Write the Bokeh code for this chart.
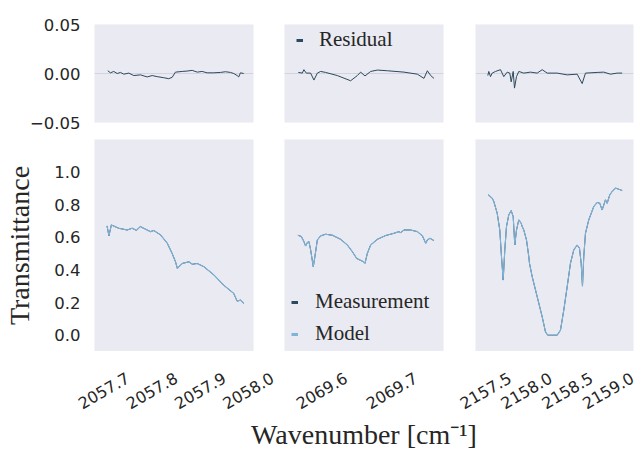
from bokeh.plotting import figure
from bokeh.models import (Range1d, FixedTicker, CustomJSTickFormatter, Label, LabelSet,
                          ColumnDataSource, Span, Legend, LegendItem)
from bokeh.layouts import row, column
from bokeh.embed import file_html
from bokeh.resources import INLINE
from bokeh.core.properties import value

# ---------------- data ----------------
res_yticks = [-0.05, 0.0, 0.05]
res_ytick_labels = ["\u22120.05", "0.00", "0.05"]
spec_yticks = [0.0, 0.2, 0.4, 0.6, 0.8, 1.0]
spec_ytick_labels = ["0.0", "0.2", "0.4", "0.6", "0.8", "1.0"]

left_xticks = [2057.7, 2057.8, 2057.9, 2058.0]
left_xtick_labels = ["2057.7", "2057.8", "2057.9", "2058.0"]
mid_xticks = [2069.6, 2069.7]
mid_xtick_labels = ["2069.6", "2069.7"]
right_xticks = [2157.5, 2158.0, 2158.5, 2159.0]
right_xtick_labels = ["2157.5", "2158.0", "2158.5", "2159.0"]

left_xlim = (2057.681, 2058.011)
mid_xlim = (2069.547, 2069.774)
right_xlim = (2157.353, 2159.288)
res_ylim = (-0.05, 0.05)
spec_ylim = (-0.1, 1.2)

x_title = "Wavenumber [cm\u207b\u00b9]"
y_title = "Transmittance"

# residuals
left_res_x = [2057.7086, 2057.7142, 2057.7210, 2057.7281, 2057.7349, 2057.7418, 2057.7522,
              2057.7625, 2057.7764, 2057.7903, 2057.8007, 2057.8111, 2057.8248, 2057.8351,
              2057.8422, 2057.8490, 2057.8630, 2057.8733, 2057.8837, 2057.8941, 2057.9044,
              2057.9148, 2057.9285, 2057.9424, 2057.9528, 2057.9632, 2057.9700, 2057.9771,
              2057.9804, 2057.9839, 2057.9907]
left_res = [0.0028, 0.0007, 0.0021, 0.0, 0.0011, -0.0007, 0.0004, -0.0021, -0.0014, -0.0035,
            -0.0021, -0.0032, -0.0043, -0.0053, -0.0039, 0.0014, 0.0021, 0.0025, 0.0032,
            0.0014, 0.0021, 0.0007, 0.0007, 0.0011, 0.0018, 0.0011, 0.0, -0.0021, -0.0035,
            0.0007, 0.0]

mid_res_x = [2069.5667, 2069.5724, 2069.5747, 2069.5781, 2069.5843, 2069.5890, 2069.5939,
             2069.5986, 2069.6057, 2069.6224, 2069.6414, 2069.6510, 2069.6557, 2069.6619,
             2069.6700, 2069.6796, 2069.6939, 2069.7176, 2069.7367, 2069.7461, 2069.7510,
             2069.7557, 2069.7604]
mid_res = [0.0011, 0.0004, 0.0039, 0.0004, 0.0004, -0.0067, 0.0004, 0.0021, 0.0011, -0.0021,
           -0.0074, -0.0021, 0.0014, -0.0025, 0.0021, 0.0035, 0.0028, 0.0014, -0.0007,
           -0.0050, 0.0028, -0.0021, -0.0050]

right_res_x = [2157.5036, 2157.5158, 2157.5366, 2157.5574, 2157.5978, 2157.6591, 2157.6994,
               2157.7411, 2157.7729, 2157.7901, 2157.8146, 2157.8305, 2157.8550, 2157.8831,
               2157.9444, 2158.0264, 2158.1084, 2158.1697, 2158.2308, 2158.3534, 2158.4757,
               2158.5983, 2158.6594, 2158.6999, 2158.8430, 2158.9240, 2159.0059, 2159.0880,
               2159.1492]
right_res = [-0.0021, 0.0021, -0.0032, 0.0004, 0.0021, 0.0039, -0.0032, 0.0014, 0.0004,
             -0.0085, 0.0021, -0.0149, -0.0032, 0.0021, 0.0004, 0.0014, 0.0004, 0.0039,
             0.0004, 0.0004, -0.0014, -0.0007, -0.0103, 0.0004, 0.0011, 0.0014, -0.0007,
             0.0004, 0.0004]

# transmittance (measurement; the model coincides with it to within a pixel)
left_x = [2057.707, 2057.711, 2057.716, 2057.731, 2057.749, 2057.759, 2057.768, 2057.776,
          2057.787, 2057.797, 2057.804, 2057.818, 2057.832, 2057.842, 2057.849, 2057.853,
          2057.863, 2057.877, 2057.884, 2057.894, 2057.908, 2057.929, 2057.949, 2057.970,
          2057.977, 2057.984, 2057.991]
left_meas = [0.670, 0.610, 0.676, 0.656, 0.645, 0.656, 0.643, 0.666, 0.650, 0.635, 0.642,
             0.615, 0.564, 0.502, 0.451, 0.410, 0.440, 0.450, 0.435, 0.440, 0.420, 0.369,
             0.307, 0.256, 0.209, 0.215, 0.195]

mid_x = [2069.5661, 2069.5710, 2069.5747, 2069.5771, 2069.5796, 2069.5819, 2069.5843,
         2069.5881, 2069.5904, 2069.5939, 2069.5986, 2069.6057, 2069.6153, 2069.6271,
         2069.6367, 2069.6439, 2069.6500, 2069.6547, 2069.6596, 2069.6619, 2069.6653,
         2069.6700, 2069.6796, 2069.6914, 2069.7033, 2069.7104, 2069.7129, 2069.7176,
         2069.7271, 2069.7367, 2069.7439, 2069.7486, 2069.7510, 2069.7547, 2069.7604]
mid_meas = [0.613, 0.605, 0.574, 0.547, 0.568, 0.574, 0.523, 0.420, 0.482, 0.584, 0.609,
            0.619, 0.613, 0.588, 0.553, 0.512, 0.471, 0.461, 0.451, 0.441, 0.502, 0.553,
            0.588, 0.611, 0.625, 0.635, 0.629, 0.645, 0.645, 0.635, 0.609, 0.564, 0.584,
            0.594, 0.580]

right_x = [2157.5085, 2157.5574, 2157.5771, 2157.6186, 2157.6505, 2157.6713, 2157.6921,
           2157.7118, 2157.7326, 2157.7607, 2157.7901, 2157.8146, 2157.8342, 2157.8550,
           2157.8831, 2157.9125, 2157.9248, 2157.9444, 2157.9775, 2158.0056, 2158.0142,
           2158.0472, 2158.1084, 2158.1697, 2158.2101, 2158.2382, 2158.3534, 2158.3937,
           2158.4342, 2158.4757, 2158.5162, 2158.5566, 2158.5983, 2158.6264, 2158.6472,
           2158.6631, 2158.6791, 2158.6999, 2158.7402, 2158.8015, 2158.8430, 2158.8749,
           2158.9043, 2158.9448, 2158.9656, 2158.9974, 2159.0268, 2159.0672, 2159.1076,
           2159.1492]
right_meas = [0.861, 0.840, 0.820, 0.748, 0.645, 0.482, 0.338, 0.523, 0.666, 0.738, 0.764,
              0.727, 0.553, 0.645, 0.707, 0.686, 0.666, 0.645, 0.584, 0.482, 0.441, 0.359,
              0.236, 0.113, 0.020, 0.000, 0.000, 0.031, 0.154, 0.297, 0.441, 0.523, 0.553,
              0.533, 0.441, 0.301, 0.482, 0.625, 0.707, 0.789, 0.814, 0.809, 0.768, 0.830,
              0.809, 0.861, 0.881, 0.902, 0.895, 0.887]

left_model = list(left_meas)
mid_model = list(mid_meas)
right_model = list(right_meas)

# ---------------- style ----------------
BG = "#EAEAF2"
DARK = "#2c4a5e"
LIGHT = "#7fb4d8"
TXT = "#262626"
ZERO = "#d2d3dc"
TICK_FONT = "DejaVu Sans"
TICK_SIZE = "16.5px"
XTICK_SIZE = "16px"
SERIF = "Liberation Serif"
NAN = float("nan")

# layout (pixels)
BL1, BR1, BL2, BR2, BL3, BR3 = 94, 24, 7, 16, 16, 4
FW1, FW2, FW3 = 159, 159, 158
TOP_BT, TOP_FH, TOP_BB = 24, 98, 9
BOT_BT, BOT_FH = 8, 212
STRIP_H = 99          # strip under the panels holding tick labels and x title
TICK_DROP = 39        # centre of the rotated tick labels below the panels
TITLE_DROP = 83       # centre of the x title below the panels


def panel(bl, fw, br, bt, fh, bb, xlim, ylim, yaxis=False):
    p = figure(width=bl + fw + br, height=bt + fh + bb,
               x_range=Range1d(*xlim), y_range=Range1d(*ylim),
               output_backend="svg", toolbar_location=None,
               x_axis_location=None,
               y_axis_location="left" if yaxis else None,
               min_border_left=bl, min_border_right=br,
               min_border_top=bt, min_border_bottom=bb)
    p.background_fill_color = BG
    p.border_fill_color = "white"
    p.outline_line_color = None
    p.grid.grid_line_color = None
    return p


def style_yaxis(p, ticks, labels):
    ax = p.yaxis[0]
    ax.ticker = FixedTicker(ticks=ticks)
    ax.formatter = CustomJSTickFormatter(
        args=dict(tv=ticks, tl=labels),
        code="for (let i = 0; i < tv.length; i++) {"
             " if (Math.abs(tv[i] - tick) < 1e-9) return tl[i]; } return '';")
    ax.axis_line_color = None
    ax.major_tick_line_color = None
    ax.minor_tick_line_color = None
    ax.major_tick_out = 0
    ax.major_tick_in = 0
    ax.major_label_text_font = TICK_FONT
    ax.major_label_text_font_size = TICK_SIZE
    ax.major_label_text_color = TXT
    ax.major_label_standoff = 14


def zero_line(p):
    p.add_layout(Span(location=0, dimension="width", line_color=ZERO,
                      line_width=1, level="underlay"))


def legend(p, entries, loc, standoff):
    items = []
    for lab, col in entries:
        proxy = p.line(x=[NAN], y=[NAN], line_color=col, line_width=3)
        items.append(LegendItem(label=lab, renderers=[proxy]))
    lg = Legend(items=items, location=loc, padding=0, margin=0, spacing=7,
                glyph_width=7, glyph_height=24, label_height=24, label_standoff=standoff,
                label_text_font=SERIF, label_text_font_size="21px",
                label_text_color=TXT, background_fill_alpha=0, border_line_color=None)
    p.add_layout(lg)


# ---- top row: residuals ----
f_tl = panel(BL1, FW1, BR1, TOP_BT, TOP_FH, TOP_BB, left_xlim, res_ylim, yaxis=True)
style_yaxis(f_tl, res_yticks, res_ytick_labels)
zero_line(f_tl)
f_tl.line(left_res_x, left_res, line_color=DARK, line_width=1)

f_tm = panel(BL2, FW2, BR2, TOP_BT, TOP_FH, TOP_BB, mid_xlim, res_ylim)
zero_line(f_tm)
f_tm.line(mid_res_x, mid_res, line_color=DARK, line_width=1)
legend(f_tm, [("Residual", DARK)], (12, 70), 16)

f_tr = panel(BL3, FW3, BR3, TOP_BT, TOP_FH, TOP_BB, right_xlim, res_ylim)
zero_line(f_tr)
f_tr.line(right_res_x, right_res, line_color=DARK, line_width=1)

# ---- bottom row: transmittance ----
f_bl = panel(BL1, FW1, BR1, BOT_BT, BOT_FH, 0, left_xlim, spec_ylim, yaxis=True)
style_yaxis(f_bl, spec_yticks, spec_ytick_labels)
f_bl.yaxis.axis_label = y_title
f_bl.yaxis.axis_label_text_font = SERIF
f_bl.yaxis.axis_label_text_font_size = "28px"
f_bl.yaxis.axis_label_text_font_style = "normal"
f_bl.yaxis.axis_label_text_color = TXT
f_bl.yaxis.axis_label_standoff = 16
f_bl.line(left_x, left_meas, line_color=DARK, line_width=1)
f_bl.line(left_x, left_model, line_color=LIGHT, line_width=1.1)

f_bm = panel(BL2, FW2, BR2, BOT_BT, BOT_FH, 0, mid_xlim, spec_ylim)
f_bm.line(mid_x, mid_meas, line_color=DARK, line_width=1)
f_bm.line(mid_x, mid_model, line_color=LIGHT, line_width=1.1)
legend(f_bm, [("Measurement", DARK), ("Model", LIGHT)], (7, 5), 17)

f_br = panel(BL3, FW3, BR3, BOT_BT, BOT_FH, 0, right_xlim, spec_ylim)
f_br.line(right_x, right_meas, line_color=DARK, line_width=1)
f_br.line(right_x, right_model, line_color=LIGHT, line_width=1.1)

# ---- strip below the panels: rotated tick labels (centred on their ticks) + x title ----
total_w = f_tl.width + f_tm.width + f_tr.width
frame_left = [BL1, f_tl.width + BL2, f_tl.width + f_tm.width + BL3]
frame_w = [FW1, FW2, FW3]
xlims = [left_xlim, mid_xlim, right_xlim]


def strip_range(k):
    # same data->pixel scale as panel k, extended over the whole strip width
    a, b = xlims[k]
    upp = (b - a) / frame_w[k]
    return Range1d(a - frame_left[k] * upp, a + (total_w - frame_left[k]) * upp)


strip = figure(width=total_w, height=STRIP_H, x_range=strip_range(0),
               y_range=Range1d(-STRIP_H, 0),
               output_backend="svg", toolbar_location=None,
               x_axis_location=None, y_axis_location=None,
               min_border_left=0, min_border_right=0, min_border_top=0,
               min_border_bottom=0)
strip.extra_x_ranges = {"mid": strip_range(1), "right": strip_range(2)}
strip.background_fill_color = "white"
strip.border_fill_color = "white"
strip.outline_line_color = None
strip.grid.grid_line_color = None

for rname, ticks, labels, nudge in [("default", left_xticks, left_xtick_labels, 0),
                                    ("mid", mid_xticks, mid_xtick_labels, 0),
                                    ("right", right_xticks, right_xtick_labels, -2)]:
    src = ColumnDataSource(dict(x=ticks, y=[-TICK_DROP] * len(ticks), text=labels))
    strip.add_layout(LabelSet(x="x", y="y", text="text", source=src, x_range_name=rname,
                              x_offset=nudge, angle=30, angle_units="deg",
                              text_align="center", text_baseline="middle",
                              text_font=value(TICK_FONT), text_font_size=value(XTICK_SIZE),
                              text_color=TXT))

strip.add_layout(Label(x=(mid_xlim[0] + mid_xlim[1]) / 2, y=-TITLE_DROP, x_range_name="mid",
                       text=x_title, text_align="center", text_baseline="middle",
                       text_font=SERIF, text_font_size="28px", text_color=TXT))

layout = column(row(f_tl, f_tm, f_tr), row(f_bl, f_bm, f_br), strip)

open("out.html", "w").write(file_html(layout, INLINE))
